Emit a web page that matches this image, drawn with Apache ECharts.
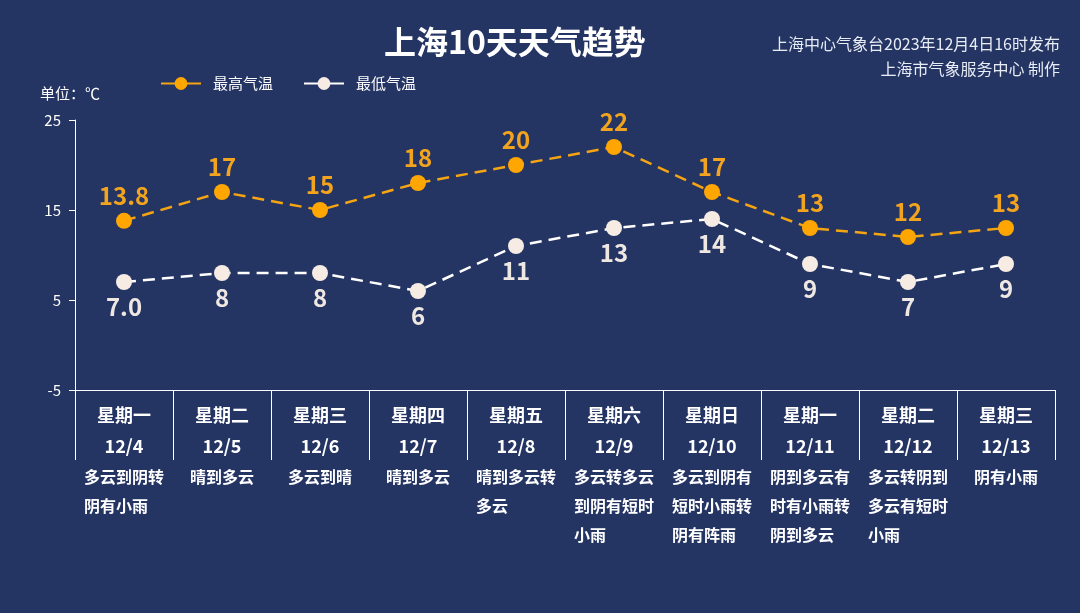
<!DOCTYPE html>
<html>
<head>
<meta charset="utf-8">
<script src="https://cdn.jsdelivr.net/npm/echarts@6/dist/echarts.min.js"></script>
<style>
  html, body { margin: 0; padding: 0; background: #243463; }
  #chart { width: 1080px; height: 613px; }
</style>
</head>
<body>
<div id="chart"></div>
<script>
const weekdays = ['星期一', '星期二', '星期三', '星期四', '星期五', '星期六', '星期日', '星期一', '星期二', '星期三'];
const dates = ['12/4', '12/5', '12/6', '12/7', '12/8', '12/9', '12/10', '12/11', '12/12', '12/13'];
const weather = [
    '多云到阴转阴有小雨', '晴到多云', '多云到晴', '晴到多云', '晴到多云转多云',
    '多云转多云到阴有短时小雨', '多云到阴有短时小雨转阴有阵雨', '阴到多云有时有小雨转阴到多云',
    '多云转阴到多云有短时小雨', '阴有小雨'
];
const highTemps = [13.8, 17, 15, 18, 20, 22, 17, 13, 12, 13];
const lowTemps = [7.0, 8, 8, 6, 11, 13, 14, 9, 7, 9];
const yTicks = { min: -5, max: 25, interval: 10 };

const font = '"Noto Sans CJK SC", "Noto Sans", sans-serif';
const orange = '#F5A412';
const cream = '#F6ECE4';

// split weather text into lines of 5 chars
function wrap(s) {
    const out = [];
    for (let i = 0; i < s.length; i += 5) out.push('{w|' + s.slice(i, i + 5) + '}');
    return out.join('\n');
}

const chart = echarts.init(document.getElementById('chart'));

const option = {
    backgroundColor: '#243463',
    textStyle: { fontFamily: font },
    title: {
        text: '上海10天天气趋势',
        left: 379,
        top: 21,
        textStyle: { color: '#fff', fontSize: 32, fontWeight: 'bold', fontFamily: font }
    },
    graphic: [
        {
            type: 'text',
            x: 1060,
            y: 44,
            style: {
                text: '上海中心气象台2023年12月4日16时发布',
                fill: '#e8ecf5',
                font: '16px ' + font,
                align: 'right',
                verticalAlign: 'middle'
            }
        },
        {
            type: 'text',
            x: 1060,
            y: 69,
            style: {
                text: '上海市气象服务中心 制作',
                fill: '#e8ecf5',
                font: '16px ' + font,
                align: 'right',
                verticalAlign: 'middle'
            }
        }
    ],
    legend: {
        left: 155,
        top: 71,
        itemWidth: 40,
        itemHeight: 16,
        itemGap: 30,
        lineStyle: { type: 'solid' },
        textStyle: { color: '#fff', fontSize: 15, fontFamily: font, padding: [0, 0, 0, 7] },
        data: ['最高气温', '最低气温']
    },
    grid: {
        left: 75,
        right: 25,
        top: 120,
        bottom: 223
    },
    xAxis: {
        type: 'category',
        data: weekdays,
        boundaryGap: true,
        axisLine: { onZero: false, lineStyle: { color: '#fff', width: 1 } },
        axisTick: { show: true, length: 70, lineStyle: { color: '#fff' } },
        axisLabel: {
            interval: 0,
            margin: 10,
            formatter: function (value, i) {
                return '{h|' + weekdays[i] + '}\n{h|' + dates[i] + '}\n' + wrap(weather[i]);
            },
            rich: {
                h: {
                    color: '#fff', fontSize: 18, fontWeight: 'bold', lineHeight: 31,
                    align: 'center', fontFamily: font
                },
                w: {
                    color: '#fff', fontSize: 16, fontWeight: 'bold', lineHeight: 29,
                    align: 'left', fontFamily: font
                }
            }
        }
    },
    yAxis: {
        type: 'value',
        min: yTicks.min,
        max: yTicks.max,
        interval: yTicks.interval,
        name: '单位：℃',
        nameLocation: 'end',
        nameGap: 19,
        nameTextStyle: { color: '#fff', fontSize: 15, align: 'center', fontFamily: font, padding: [0, 0, 0, -10] },
        axisLine: { show: true, lineStyle: { color: '#fff' } },
        axisTick: { show: true, length: 6, lineStyle: { color: '#fff' } },
        axisLabel: { color: '#fff', fontSize: 15, margin: 14 },
        splitLine: { show: false }
    },
    series: [
        {
            name: '最高气温',
            type: 'line',
            data: highTemps,
            symbol: 'circle',
            symbolSize: 16,
            itemStyle: { color: '#FFA602' },
            lineStyle: { color: orange, width: 2.5, type: [12, 7] },
            label: {
                show: true,
                position: 'top',
                distance: 5,
                color: '#F2A41E',
                fontSize: 24,
                fontWeight: 'bold',
                fontFamily: font,
                formatter: function (p) {
                    return p.dataIndex === 0 ? p.value.toFixed(1) : String(p.value);
                }
            },
            z: 3
        },
        {
            name: '最低气温',
            type: 'line',
            data: lowTemps,
            symbol: 'circle',
            symbolSize: 16,
            itemStyle: { color: cream },
            lineStyle: { color: '#fff', width: 2.5, type: [12, 7] },
            label: {
                show: true,
                position: 'bottom',
                distance: 5,
                color: '#EFE7E2',
                fontSize: 24,
                fontWeight: 'bold',
                fontFamily: font,
                formatter: function (p) {
                    return p.dataIndex === 0 ? p.value.toFixed(1) : String(p.value);
                }
            },
            z: 3
        }
    ]
};

chart.setOption(option);
</script>
</body>
</html>
